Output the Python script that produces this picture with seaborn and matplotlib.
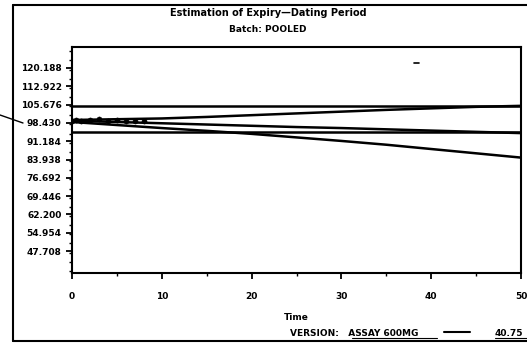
import numpy as np
import pandas as pd
import matplotlib
matplotlib.use('Agg')
import matplotlib.pyplot as plt
import seaborn as sns
from matplotlib.lines import Line2D
from matplotlib.ticker import MultipleLocator

# values
time = [0, 5, 10, 15, 20, 25, 30, 35, 40, 45, 50]
fitted = [99.3, 98.8, 98.3, 97.8, 97.3, 96.8, 96.4, 95.9, 95.4, 94.9, 94.4]
upper_cl = [99.6, 99.9, 100.2, 100.8, 101.5, 102.2, 102.9, 103.6, 104.2, 104.8, 105.2]
lower_cl = [98.8, 97.6, 96.4, 95.3, 94.1, 92.7, 91.3, 89.8, 88.1, 86.4, 84.7]
upper_spec = [105.0] * len(time)
lower_spec = [95.0] * len(time)

obs_time = [0, 0.5, 1, 2, 3, 4, 5, 6, 7, 8]
obs_assay = [99.2, 99.6, 99.0, 99.5, 99.8, 99.3, 99.4, 99.1, 99.3, 99.0]

ytick_vals = [47.708, 54.954, 62.200, 69.446, 76.692, 83.938, 91.184, 98.430, 105.676, 112.922, 120.188]

df = pd.DataFrame({'Time': time, 'fit': fitted, 'ucl': upper_cl, 'lcl': lower_cl,
                   'usl': upper_spec, 'lsl': lower_spec})
obs = pd.DataFrame({'Time': obs_time, 'Assay': obs_assay})

sns.set_style('ticks')
plt.rcParams['font.family'] = ['DejaVu Sans']
plt.rcParams['text.color'] = 'black'
plt.rcParams['axes.labelcolor'] = 'black'
fig = plt.figure(figsize=(5.27, 3.43), dpi=100)
ax = fig.add_axes([72 / 527, 1 - 273 / 343, (521 - 72) / 527, (273 - 47) / 343])

for col in ['usl', 'lsl', 'fit', 'ucl', 'lcl']:
    sns.lineplot(data=df, x='Time', y=col, color='black', linewidth=1.8, ax=ax)
sns.scatterplot(data=obs, x='Time', y='Assay', color='black', s=14, marker='o', edgecolor='black', ax=ax)

ax.set_xlim(0, 50)
ax.set_ylim(39, 128.5)
ax.set_xticks([0, 10, 20, 30, 40, 50])
ax.xaxis.set_minor_locator(MultipleLocator(5))
ax.set_yticks(ytick_vals)
ax.set_yticklabels(['%.3f' % v for v in ytick_vals])
ax.yaxis.set_minor_locator(MultipleLocator(7.246 / 2))
ax.tick_params(axis='both', which='major', labelsize=6.5, width=1.3, length=4, colors='black')
ax.tick_params(axis='both', which='minor', width=1.0, length=2, colors='black')
for lab in ax.get_xticklabels() + ax.get_yticklabels():
    lab.set_fontweight('bold')
ax.tick_params(axis='x', pad=10)
ax.set_xlabel('Time', fontsize=6.5, fontweight='bold', labelpad=8, color='black')
ax.set_ylabel('')
for sp in ax.spines.values():
    sp.set_linewidth(1.5)
    sp.set_color('black')

fig.text(268 / 527, 1 - 13 / 343, 'Estimation of Expiry\u2014Dating Period', ha='center', va='center',
         fontsize=7, fontweight='bold', color='black')
fig.text(268 / 527, 1 - 29 / 343, 'Batch: POOLED', ha='center', va='center', fontsize=6.5,
         fontweight='bold', color='black')
fig.text(290 / 527, 1 - 333 / 343, 'VERSION:   ASSAY 600MG', ha='left', va='center', fontsize=6.5,
         fontweight='bold', color='black')
fig.text(495 / 527, 1 - 333 / 343, '40.75', ha='left', va='center', fontsize=6.5, fontweight='bold',
         color='black')

# scanned page frame and marks
def px_line(x0, y0, x1, y1, lw=1.5):
    fig.add_artist(Line2D([x0 / 527, x1 / 527], [1 - y0 / 343, 1 - y1 / 343], color='black', linewidth=lw))

px_line(13, 5, 13, 341)
px_line(13, 5, 527, 5)
px_line(13, 341, 527, 341)
px_line(0, 115, 23, 123, lw=1.0)
px_line(444, 332, 470, 332, lw=1.5)
px_line(352, 338, 437, 338, lw=0.8)
px_line(495, 338, 527, 338, lw=0.8)
px_line(414, 63, 419, 63, lw=1.2)

fig.savefig('out.png', dpi=100, facecolor='white')
